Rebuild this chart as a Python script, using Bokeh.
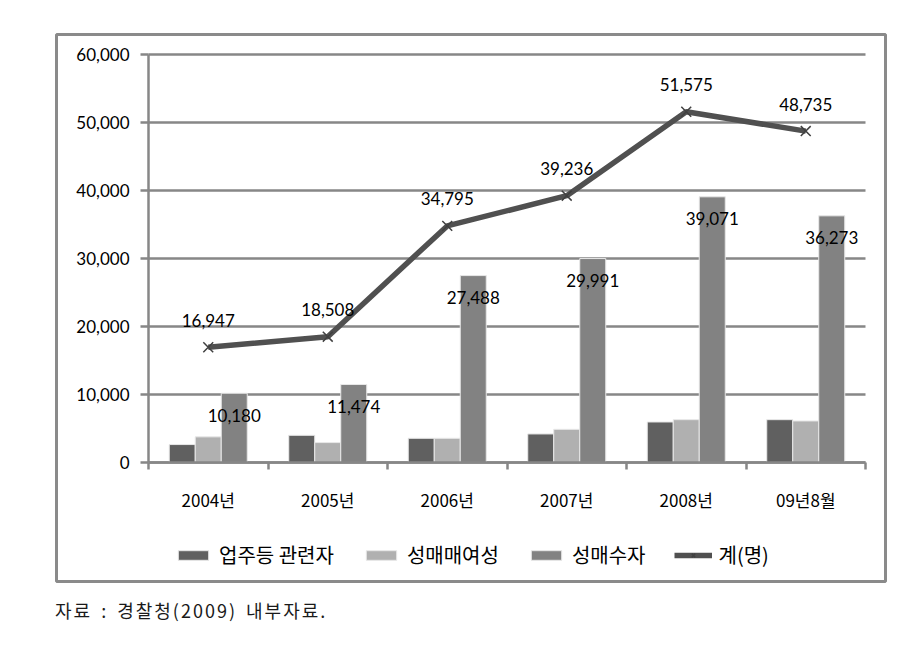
from bokeh.plotting import figure
from bokeh.layouts import column
from bokeh.models import (Range1d, FixedTicker, NumeralTickFormatter, Legend, LegendItem,
                          Div, ColumnDataSource, Grid)
from bokeh.transform import dodge
from bokeh.embed import file_html
from bokeh.resources import INLINE
from bokeh.core.properties import value

# ---------------- data ----------------
categories = ["2004년", "2005년", "2006년", "2007년", "2008년", "09년8월"]
owners = [2640, 4000, 3560, 4200, 5960, 6300]          # 업주등 관련자
women = [3770, 2930, 3560, 4880, 6300, 6110]           # 성매매여성
buyers = [10180, 11474, 27488, 29991, 39071, 36273]    # 성매수자
totals = [16947, 18508, 34795, 39236, 51575, 48735]    # 계(명)
y_ticks = [0, 10000, 20000, 30000, 40000, 50000, 60000]
series_names = ["업주등 관련자", "성매매여성", "성매수자", "계(명)"]
caption = "자료 : 경찰청(2009) 내부자료."

# ---------------- styling / layout ----------------
GRID = "#878787"
C_OWN, C_WOM, C_BUY, C_TOT = "#606060", "#b0b0b0", "#828282", "#505050"
NUM = "Lato"
KR = "Noto Sans CJK KR"
BW = 0.2176

n = len(categories)
ymax = y_ticks[-1]
# the plot frame is the whole framed box; the value area occupies part of it
PX_PER_CAT = 119.5          # pixels per category
PX_PER_Y = 408 / ymax       # pixels per unit of y
FRAME_W, FRAME_H = 829, 547
LEFT_PAD, RIGHT_PAD = 92, 20    # px between frame edge and value area
TOP_PAD, BOTTOM_PAD = 20, 119

x_start = -LEFT_PAD / PX_PER_CAT
x_end = n + RIGHT_PAD / PX_PER_CAT
y_start = -BOTTOM_PAD / PX_PER_Y
y_end = ymax + TOP_PAD / PX_PER_Y

xc = [i + 0.5 for i in range(n)]
src = ColumnDataSource(dict(
    x=xc, owners=owners, women=women, buyers=buyers, totals=totals,
    buyers_lbl=[f"{v:,}" for v in buyers],
    totals_lbl=[f"{v:,}" for v in totals],
))

B = 4
p = figure(width=FRAME_W + 2 * B, height=FRAME_H + 2 * B, output_backend="svg",
           toolbar_location=None,
           x_range=Range1d(x_start, x_end), y_range=Range1d(y_start, y_end),
           min_border_left=B, min_border_right=B, min_border_top=B, min_border_bottom=B)
p.outline_line_color = "#8a8a8a"
p.outline_line_width = 3
p.background_fill_color = "white"
p.border_fill_color = "white"
p.margin = (30, 0, 0, 52)

# y axis, drawn at the left edge of the value area
ya = p.yaxis[0]
ya.fixed_location = 0
ya.bounds = (0, ymax)
ya.ticker = FixedTicker(ticks=y_ticks)
ya.formatter = NumeralTickFormatter(format="0,0")
ya.axis_line_color = GRID
ya.axis_line_width = 2.5
ya.major_tick_line_color = GRID
ya.major_tick_line_width = 2.5
ya.major_tick_out = 8
ya.major_tick_in = 0
ya.minor_tick_line_color = None
ya.major_label_standoff = 11
ya.major_label_text_font = NUM
ya.major_label_text_font_size = "17px"
ya.major_label_text_color = "black"

# x axis (labels at category centres, ticks at category boundaries)
xa = p.xaxis[0]
xa.fixed_location = 0
xa.bounds = (0, n)
xa.ticker = FixedTicker(ticks=xc, minor_ticks=list(range(n + 1)))
xa.major_label_overrides = {x: c for x, c in zip(xc, categories)}
xa.axis_line_color = GRID
xa.axis_line_width = 2.5
xa.major_tick_line_color = None
xa.major_tick_out = 0
xa.major_tick_in = 0
xa.minor_tick_line_color = GRID
xa.minor_tick_line_width = 2.5
xa.minor_tick_out = 7
xa.minor_tick_in = 0
xa.major_label_standoff = 17
xa.major_label_text_font = KR
xa.major_label_text_font_size = "17px"
xa.major_label_text_color = "black"

p.xgrid.visible = False
yg = p.ygrid[0]
yg.ticker = FixedTicker(ticks=y_ticks)
yg.grid_line_color = GRID
yg.grid_line_width = 2.5
if "cross_bounds" in Grid.properties():
    yg.cross_bounds = (0, n)
else:
    yg.visible = False
    p.segment(x0=0, x1=n, y0=y_ticks, y1=y_ticks, line_color=GRID, line_width=2.5)

# bars
r1 = p.vbar(x=dodge("x", -BW), top="owners", width=BW, source=src,
            fill_color=C_OWN, line_color="#e8e8e8", line_width=1)
r2 = p.vbar(x="x", top="women", width=BW, source=src,
            fill_color=C_WOM, line_color="#e8e8e8", line_width=1)
r3 = p.vbar(x=dodge("x", BW), top="buyers", width=BW, source=src,
            fill_color=C_BUY, line_color="#e8e8e8", line_width=1)

# total line
r4 = p.line(x="x", y="totals", source=src, line_color=C_TOT, line_width=5.5)
r5 = p.scatter(x="x", y="totals", source=src, marker="x", size=14,
               line_color="#404040", line_width=1.5)

# data labels
p.text(x=dodge("x", BW), y="buyers", text="buyers_lbl", source=src,
       text_align="center", text_baseline="middle", y_offset=22,
       text_font=value(NUM), text_font_size="17px", text_color="black")
p.text(x="x", y="totals", text="totals_lbl", source=src,
       text_align="center", text_baseline="middle", y_offset=-27,
       text_font=value(NUM), text_font_size="17px", text_color="black")

# legend (inside the framed box, under the x axis)
legend = Legend(items=[
    LegendItem(label=series_names[0], renderers=[r1]),
    LegendItem(label=series_names[1], renderers=[r2]),
    LegendItem(label=series_names[2], renderers=[r3]),
    LegendItem(label=series_names[3], renderers=[r4, r5]),
], orientation="horizontal", location=(118, 12), padding=0, spacing=28,
   label_standoff=7, glyph_width=38, glyph_height=12, label_height=12,
   border_line_color=None, background_fill_alpha=0,
   label_text_font=KR, label_text_font_size="20px", label_text_color="black")
p.add_layout(legend)

# caption below the framed chart
cap = Div(text=caption, margin=(15, 0, 0, 55),
          styles={"font-family": "Noto Sans CJK KR", "font-size": "18px",
                  "letter-spacing": "2px", "word-spacing": "3px",
                  "color": "#1a1a1a", "line-height": "1.2"})

layout = column(p, cap)
open("out.html", "w").write(file_html(layout, INLINE))
